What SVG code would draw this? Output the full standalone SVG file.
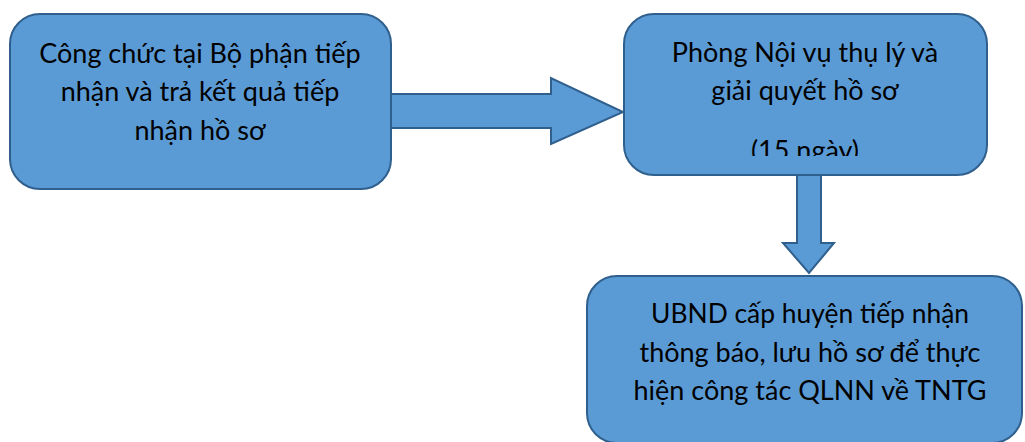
<svg xmlns="http://www.w3.org/2000/svg" width="1025" height="442" viewBox="0 0 1025 442">
<style>
.box{fill:#5B9BD5;stroke:#2F5F8C;stroke-width:2}
.arrow{fill:#5B9BD5;stroke:#2F5F8C;stroke-width:2;stroke-linejoin:miter}
.t{font-family:Lato,"Liberation Sans",sans-serif;font-size:27px;fill:#000;text-anchor:middle}
</style>
<defs>
<clipPath id="c2"><rect x="624" y="14" width="363" height="142"/></clipPath>
</defs>
<rect width="1025" height="442" fill="#fff"/>
<g id="connectors">
<path class="arrow" d="M391,94 L551,94 L551,78 L623,112 L551,144 L551,128 L391,128 Z"/>
<path class="arrow" d="M797,175 L821,175 L821,243 L834,243 L809,273 L783,243 L797,243 Z"/>
</g>
<g id="node1">
<rect class="box" x="10" y="14" width="381" height="175" rx="30"/>
<text class="t" x="200" y="63">Công chức tại Bộ phận tiếp</text>
<text class="t" x="200" y="101">nhận và trả kết quả tiếp</text>
<text class="t" x="200" y="140">nhận hồ sơ</text>
</g>
<g id="node2">
<rect class="box" x="624" y="14" width="363" height="161" rx="30"/>
<text class="t" x="805" y="62">Phòng Nội vụ thụ lý và</text>
<text class="t" x="805" y="100">giải quyết hồ sơ</text>
<text class="t" x="805" y="160" clip-path="url(#c2)">(15 ngày)</text>
</g>
<g id="node3">
<rect class="box" x="587" y="276" width="435" height="167" rx="30"/>
<text class="t" x="810" y="323" textLength="318" lengthAdjust="spacingAndGlyphs">UBND cấp huyện tiếp nhận</text>
<text class="t" x="810" y="362">thông báo, lưu hồ sơ để thực</text>
<text class="t" x="810" y="400">hiện công tác QLNN về TNTG</text>
</g>
</svg>
